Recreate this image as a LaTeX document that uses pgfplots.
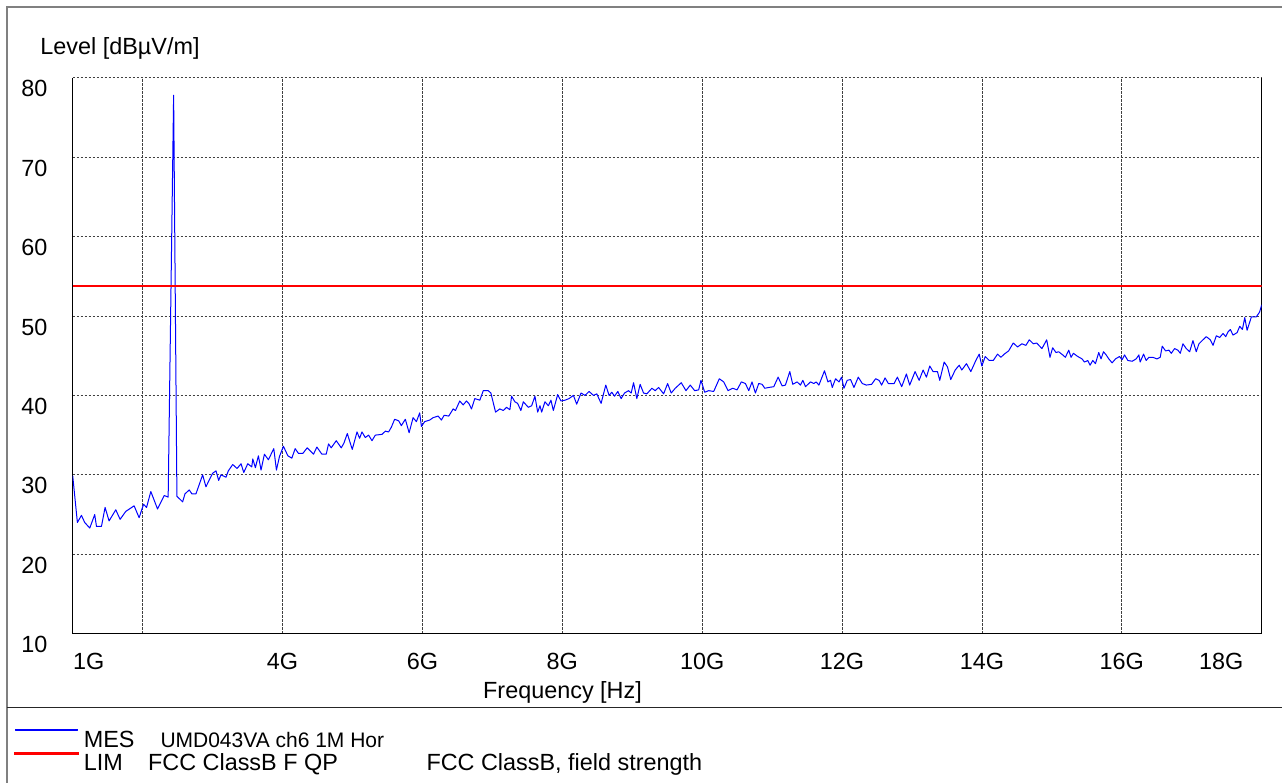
\documentclass[border=0pt]{standalone}
\usepackage{fontspec}
\setmainfont{Liberation Sans}
\usepackage{pgfplots}
\pgfplotsset{compat=1.18}
\definecolor{mesblue}{RGB}{0,0,255}
\definecolor{limred}{RGB}{255,0,0}
\pgfplotstableread{
f v
1.000 29.9
1.067 24.0
1.125 24.9
1.172 24.0
1.244 23.3
1.315 25.0
1.340 23.5
1.411 23.5
1.463 25.9
1.520 24.2
1.616 25.6
1.678 24.4
1.759 25.4
1.878 26.1
1.950 24.6
2.013 26.3
2.056 25.9
2.117 27.9
2.213 25.7
2.308 27.4
2.365 27.2
2.443 77.8
2.490 27.3
2.572 26.6
2.605 27.6
2.666 28.1
2.705 27.6
2.762 27.6
2.858 30.0
2.905 28.5
3.001 30.2
3.049 30.5
3.087 29.3
3.120 30.0
3.192 29.7
3.225 30.5
3.288 31.3
3.350 30.8
3.407 31.4
3.446 30.3
3.503 31.4
3.560 31.0
3.575 32.0
3.612 30.9
3.655 32.4
3.693 30.6
3.741 32.6
3.798 31.9
3.875 33.3
3.913 30.6
3.956 32.3
4.013 33.6
4.076 32.4
4.133 32.1
4.181 33.3
4.228 32.7
4.291 32.7
4.352 33.4
4.443 32.6
4.491 33.5
4.563 32.6
4.625 32.6
4.658 33.9
4.696 33.4
4.768 34.3
4.840 33.4
4.878 34.0
4.926 35.2
4.997 33.2
5.065 35.4
5.102 34.6
5.136 35.4
5.183 34.7
5.231 35.0
5.279 34.3
5.327 35.0
5.423 35.1
5.470 35.5
5.517 35.4
5.556 36.0
5.603 37.0
5.661 36.8
5.699 36.2
5.756 37.0
5.810 35.3
5.867 37.2
5.914 36.7
5.961 37.8
5.986 36.1
6.033 36.7
6.105 36.9
6.153 37.2
6.225 37.4
6.272 36.9
6.311 37.5
6.377 37.4
6.440 38.3
6.473 38.1
6.534 39.3
6.583 38.8
6.630 39.3
6.663 39.0
6.702 38.3
6.749 39.6
6.821 39.4
6.870 40.6
6.941 40.6
6.979 40.3
7.046 37.9
7.107 38.3
7.156 38.1
7.203 38.5
7.251 38.2
7.275 39.9
7.322 39.2
7.361 39.0
7.408 38.1
7.443 39.2
7.514 38.5
7.562 38.7
7.609 39.9
7.648 37.9
7.681 38.7
7.705 37.9
7.752 39.2
7.801 38.7
7.838 39.4
7.872 38.1
7.934 40.1
7.981 39.3
8.039 39.4
8.096 39.6
8.159 40.0
8.206 38.9
8.268 40.3
8.325 40.0
8.383 40.5
8.446 40.0
8.493 40.2
8.555 39.0
8.622 41.3
8.669 40.0
8.708 40.4
8.747 39.9
8.794 40.5
8.841 39.6
8.890 40.3
8.947 40.6
8.985 40.3
9.019 41.6
9.066 39.6
9.113 41.4
9.162 40.3
9.209 40.2
9.281 40.9
9.328 40.6
9.377 41.0
9.449 40.2
9.506 41.5
9.557 40.3
9.615 40.9
9.701 41.6
9.768 40.6
9.830 41.3
9.893 40.6
9.950 40.7
9.983 41.9
10.036 40.4
10.093 40.6
10.165 40.5
10.245 42.1
10.308 41.7
10.370 40.6
10.437 40.9
10.499 40.7
10.560 41.7
10.618 41.5
10.666 40.6
10.713 41.7
10.761 40.3
10.809 41.5
10.857 41.4
10.895 40.9
10.952 41.0
11.024 41.1
11.086 42.3
11.143 41.2
11.190 41.3
11.253 43.0
11.295 41.4
11.358 41.7
11.405 41.3
11.440 41.9
11.477 41.1
11.549 41.7
11.597 41.5
11.630 41.7
11.669 41.3
11.749 43.1
11.798 41.7
11.835 41.9
11.860 41.0
11.907 42.1
11.956 41.7
11.993 42.3
12.027 40.9
12.074 41.9
12.122 42.0
12.170 41.0
12.232 42.3
12.289 41.5
12.347 41.3
12.423 41.4
12.480 42.1
12.529 41.9
12.566 41.3
12.615 42.2
12.662 41.5
12.744 41.5
12.791 42.3
12.853 41.1
12.920 42.7
12.967 41.3
13.044 43.0
13.102 41.9
13.159 43.2
13.206 42.3
13.254 43.7
13.302 43.0
13.364 43.0
13.397 41.9
13.460 44.2
13.507 43.6
13.554 42.0
13.618 43.2
13.675 43.8
13.712 43.2
13.779 44.0
13.841 43.0
13.913 44.4
13.961 45.2
13.999 43.7
14.047 44.9
14.104 44.4
14.162 44.4
14.223 45.2
14.271 44.8
14.319 45.2
14.381 45.6
14.448 46.6
14.510 46.1
14.571 46.5
14.629 46.3
14.677 47.0
14.735 46.5
14.782 46.6
14.858 45.9
14.926 47.0
14.973 44.8
15.011 46.0
15.059 45.4
15.097 45.5
15.155 45.1
15.193 44.8
15.241 45.7
15.274 44.8
15.308 45.3
15.370 44.9
15.431 44.6
15.466 44.2
15.513 44.4
15.546 43.8
15.585 44.4
15.623 44.0
15.670 45.4
15.703 44.6
15.738 45.5
15.776 45.1
15.814 44.6
15.861 44.1
15.910 44.6
15.967 44.9
16.004 44.5
16.039 45.1
16.086 44.4
16.148 44.3
16.205 44.6
16.244 45.1
16.262 44.2
16.311 45.2
16.348 44.4
16.387 44.8
16.444 44.8
16.501 44.6
16.549 44.8
16.578 46.2
16.626 45.6
16.673 45.7
16.707 45.3
16.755 45.9
16.802 45.7
16.836 45.3
16.874 46.5
16.921 45.9
16.970 45.5
17.017 46.9
17.064 45.5
17.103 46.5
17.160 47.0
17.208 47.4
17.265 47.0
17.304 46.3
17.351 47.5
17.400 47.3
17.447 47.8
17.486 47.4
17.519 48.0
17.552 48.3
17.590 47.6
17.648 47.9
17.686 48.7
17.724 48.3
17.758 49.8
17.791 48.2
17.853 49.9
17.924 49.9
17.970 50.5
18.000 51.4
}\mes
\pgfplotstableread{
f v
1 53.8
18 53.8
}\lim
\begin{document}
\fontsize{11.7pt}{14pt}\selectfont
\begin{tikzpicture}
\draw[gray, line width=1pt] (-32.85pt,-80pt) -- (-32.85pt,313.5pt) -- (610pt,313.5pt);
\draw[black!85, line width=0.5pt] (-32.85pt,-36.65pt) -- (610pt,-36.65pt);
\begin{axis}[
  at={(0,0)}, anchor=south west,
  scale only axis, width=594.5pt, height=278pt,
  xmin=1, xmax=18, ymin=10, ymax=80,
  axis x line*=bottom, axis y line*=box,
  axis line style={-, black, line width=0.6pt},
  xtick={2,4,...,16}, xticklabels={,4G,6G,8G,10G,12G,14G,16G},
  extra x ticks={1.23,17.42}, extra x tick labels={1G,18G},
  extra x tick style={grid=none},
  ytick={10,20,...,80}, yticklabels={10,20,30,40,50,60,70,80},
  major tick length=0pt,
  grid=major,
  major grid style={black!75, line width=0.4pt, dash pattern=on 1.2pt off 0.8pt},
  xticklabel style={anchor=north, inner sep=0pt, yshift=-9.35pt, font=\fontsize{11.7pt}{14pt}\selectfont},
  yticklabel style={anchor=east, inner sep=0pt, xshift=-12.5pt, yshift=-5.5pt, font=\fontsize{11.7pt}{14pt}\selectfont},
  legend cell align=left,
  legend style={at={(-0.049369,-0.16996)}, anchor=north west, draw=none, fill=none,
    inner xsep=0pt, inner ysep=0pt, row sep=-0.35pt, column sep=2.65pt,
    nodes={inner sep=0pt, text height=8.5pt, text depth=2.5pt},
    font=\fontsize{11.7pt}{14pt}\selectfont},
]
\addplot[draw=mesblue, line width=0.5pt, line join=round, mark=none,
  legend image code/.code={\fill[fill=mesblue] (0pt,5.6pt) rectangle (31.35pt,6.2pt);}]
  table[x=f, y=v] {\mes};
\addlegendentry{\makebox[38.35pt][l]{MES}{\fontsize{10.5pt}{12pt}\selectfont UMD043VA ch6 1M Hor}}
\addplot[draw=limred, line width=0.7pt, mark=none,
  legend image code/.code={\fill[fill=limred] (0pt,5.55pt) rectangle (31.35pt,6.25pt);}]
  table[x=f, y=v] {\lim};
\addlegendentry{\makebox[32.15pt][l]{LIM}\makebox[139.2pt][l]{FCC ClassB F QP}FCC ClassB, field strength}
\end{axis}
\node[anchor=base west, inner sep=0pt] at (-16.35pt,289.35pt) {Level [dBµV/m]};
\node[anchor=base, inner sep=0pt] at (244.9pt,-32.15pt) {Frequency [Hz]};
\pgfresetboundingbox
\path[use as bounding box] (-36.35pt,-74.65pt) rectangle (604.65pt,316.85pt);
\end{tikzpicture}
\end{document}
